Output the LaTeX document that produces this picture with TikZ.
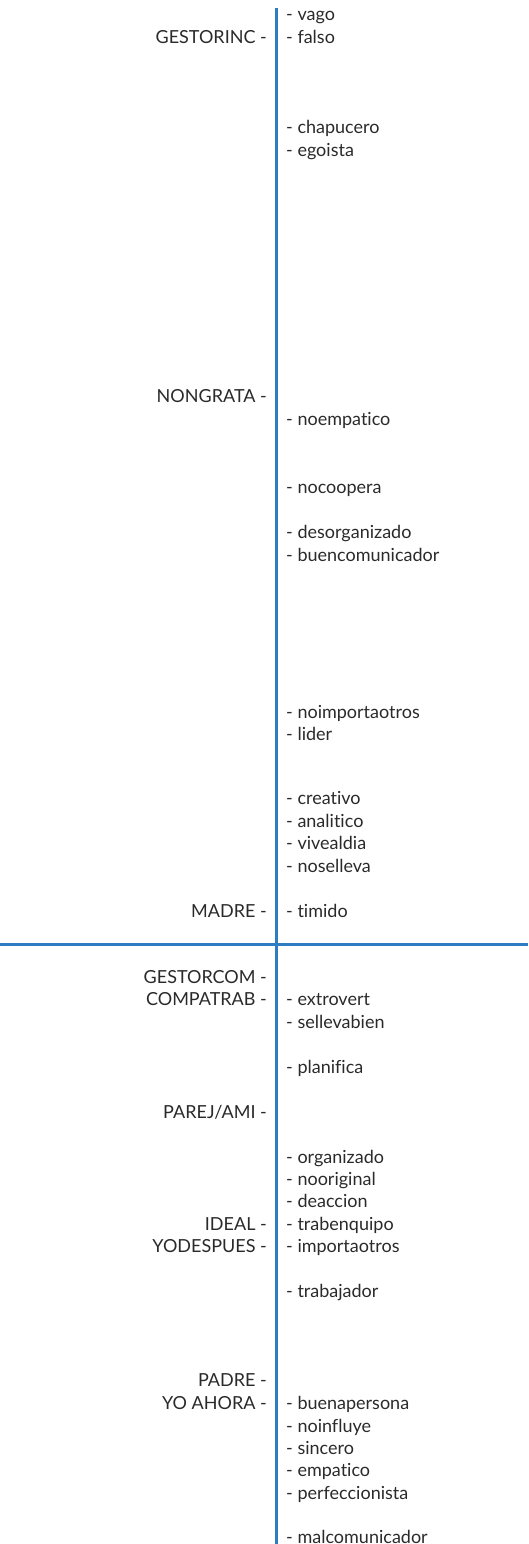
\documentclass[tikz,border=0pt]{standalone}
\usepackage{fontspec}
\setmainfont{Lato}[RawFeature={-liga;-dlig}]
\definecolor{axisblue}{HTML}{2E7DC2}
\definecolor{txt}{HTML}{2A2A2A}
\begin{document}
\begin{tikzpicture}[x=1pt,y=-1pt,
  lbl/.style={anchor=base east,inner sep=0pt,font=\fontsize{18}{22}\selectfont,text=txt},
  itm/.style={anchor=base west,inner sep=0pt,font=\fontsize{18}{22}\selectfont,text=txt},
  axis/.style={draw=axisblue,line width=3pt}]
\useasboundingbox (0,0) rectangle (528,1544);
\coordinate (vtop) at (276,8);
\coordinate (vbot) at (276,1544);
\coordinate (hl) at (0,944);
\coordinate (hr) at (528,944);
\draw[axis] (vtop) -- (vbot);
\draw[axis] (hl) -- (hr);
% left labels
\node[lbl] (l1) at (267,44) {GESTORINC -};
\node[lbl] (l2) at (267,402) {NONGRATA -};
\node[lbl] (l3) at (267,917) {MADRE -};
\node[lbl] (l4) at (267,983) {GESTORCOM -};
\node[lbl] (l5) at (267,1005) {COMPATRAB -};
\node[lbl] (l6) at (267,1118) {PAREJ/AMI -};
\node[lbl] (l7) at (267,1230) {IDEAL -};
\node[lbl] (l8) at (267,1252) {YODESPUES -};
\node[lbl] (l9) at (267,1386) {PADRE -};
\node[lbl] (l10) at (267,1409) {YO AHORA -};
% right items
\node[itm] (r1) at (286,21) {- vago};
\node[itm] (r2) at (286,44) {- falso};
\node[itm] (r3) at (286,134) {- chapucero};
\node[itm] (r4) at (286,157) {- egoista};
\node[itm] (r5) at (286,425) {- noempatico};
\node[itm] (r6) at (286,493) {- nocoopera};
\node[itm] (r7) at (286,538) {- desorganizado};
\node[itm] (r8) at (286,561) {- buencomunicador};
\node[itm] (r9) at (286,718) {- noimportaotros};
\node[itm] (r10) at (286,740) {- lider};
\node[itm] (r11) at (286,804) {- creativo};
\node[itm] (r12) at (286,827) {- analitico};
\node[itm] (r13) at (286,849) {- vivealdia};
\node[itm] (r14) at (286,872) {- noselleva};
\node[itm] (r15) at (286,917) {- timido};
\node[itm] (r16) at (286,1005) {- extrovert};
\node[itm] (r17) at (286,1028) {- sellevabien};
\node[itm] (r18) at (286,1073) {- planifica};
\node[itm] (r19) at (286,1163) {- organizado};
\node[itm] (r20) at (286,1185) {- nooriginal};
\node[itm] (r21) at (286,1207) {- deaccion};
\node[itm] (r22) at (286,1230) {- trabenquipo};
\node[itm] (r23) at (286,1252) {- importaotros};
\node[itm] (r24) at (286,1297) {- trabajador};
\node[itm] (r25) at (286,1409) {- buenapersona};
\node[itm] (r26) at (286,1432) {- noinfluye};
\node[itm] (r27) at (286,1454) {- sincero};
\node[itm] (r28) at (286,1476) {- empatico};
\node[itm] (r29) at (286,1499) {- perfeccionista};
\node[itm] (r30) at (286,1543) {- malcomunicador};
\end{tikzpicture}
\end{document}
